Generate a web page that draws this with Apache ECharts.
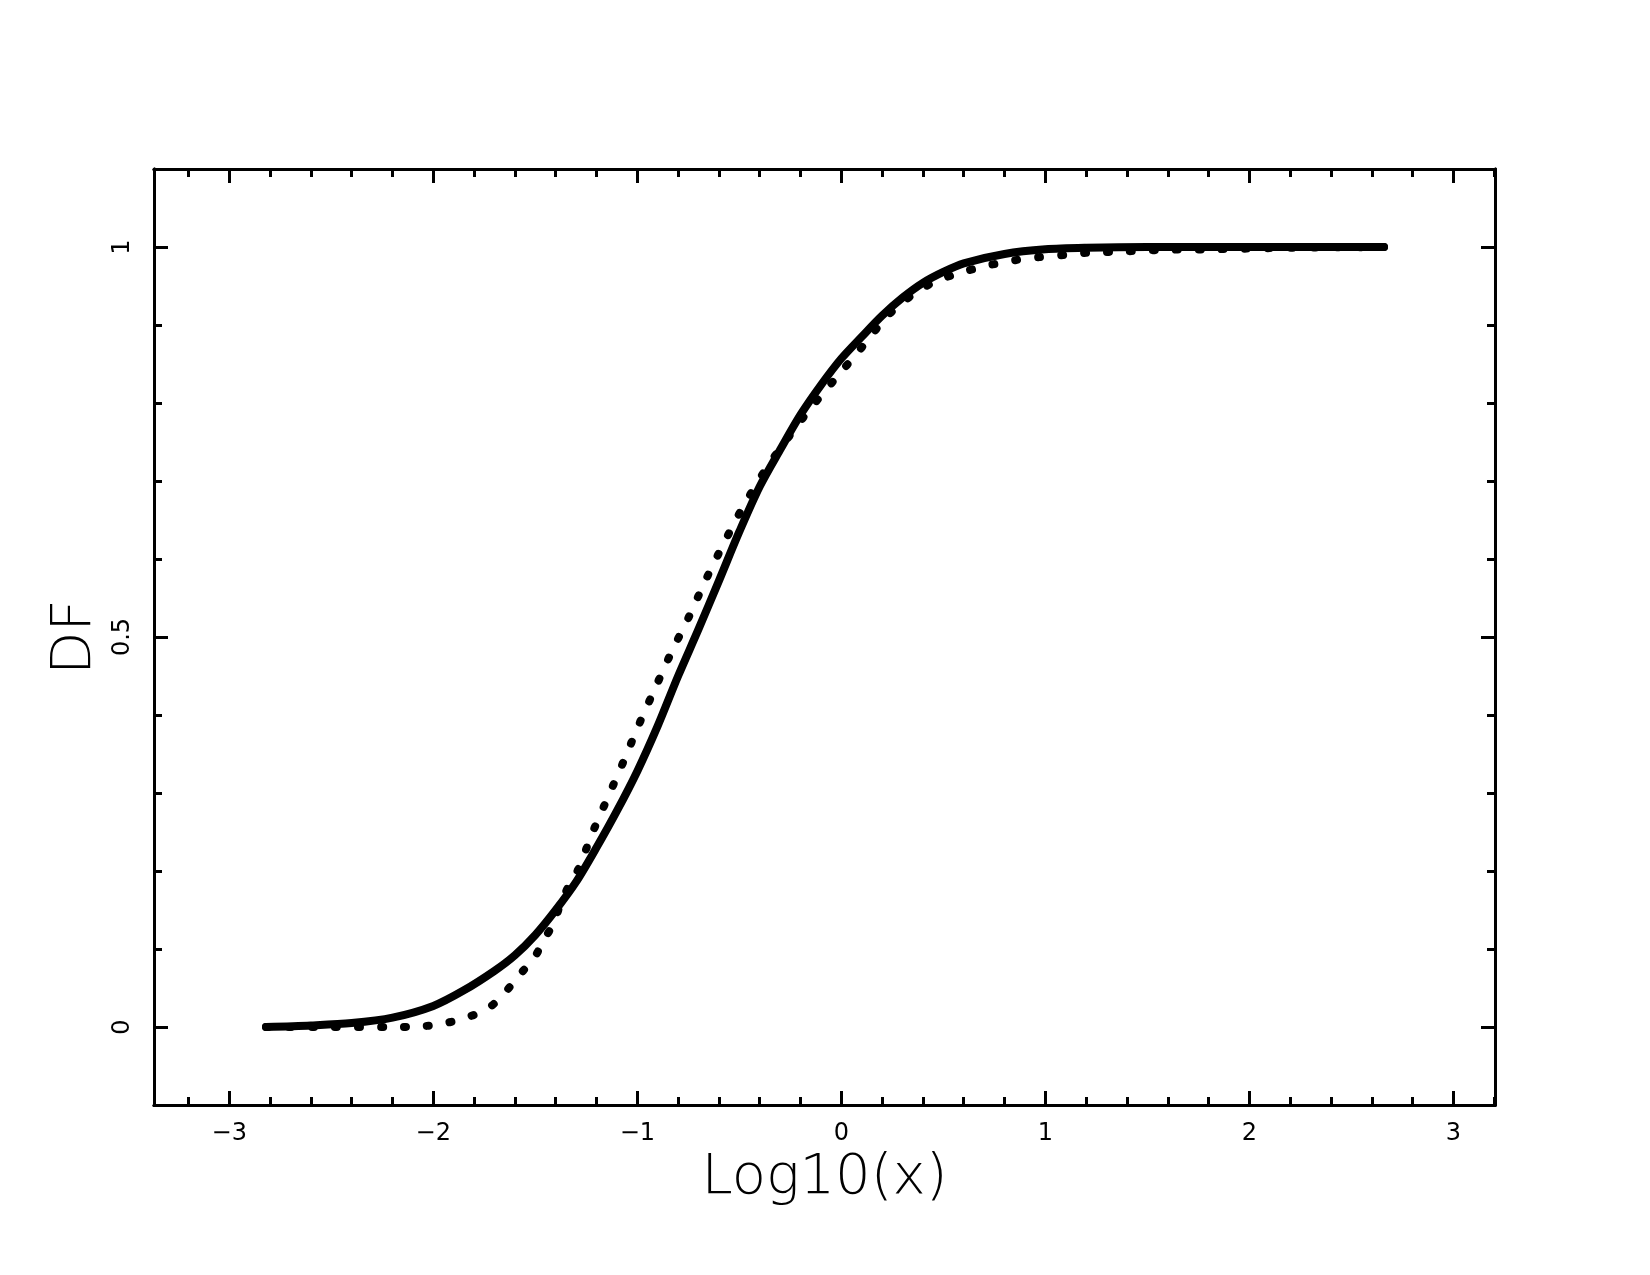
<!DOCTYPE html>
<html>
<head>
<meta charset="utf-8">
<script src="https://cdn.jsdelivr.net/npm/echarts@6/dist/echarts.min.js"></script>
<style>
  html, body { margin: 0; padding: 0; background: #fff; }
  #main { width: 1650px; height: 1275px; }
</style>
</head>
<body>
<div id="main"></div>
<script>
// solid curve: log10(x) and DF
let solidX = [-2.82, -2.6, -2.4, -2.2, -2.0, -1.85, -1.7, -1.6, -1.5, -1.4, -1.3, -1.2, -1.1, -1.0, -0.9, -0.8, -0.7, -0.6, -0.5, -0.4, -0.3, -0.2, -0.1, 0.0, 0.1, 0.2, 0.3, 0.4, 0.5, 0.6, 0.8, 1.0, 1.2, 1.5, 2.0, 2.66];
let solidY = [0.000, 0.002, 0.005, 0.012, 0.027, 0.047, 0.072, 0.092, 0.118, 0.150, 0.186, 0.230, 0.277, 0.328, 0.386, 0.450, 0.510, 0.572, 0.635, 0.693, 0.740, 0.785, 0.823, 0.857, 0.885, 0.912, 0.935, 0.954, 0.968, 0.979, 0.991, 0.997, 0.999, 1.0, 1.0, 1.0];

// dotted curve
let dotX = [-2.82, -2.5, -2.2, -2.05, -1.94, -1.84, -1.75, -1.68, -1.62, -1.56, -1.50, -1.46, -1.41, -1.38, -1.34, -1.29, -1.22, -1.14, -1.065, -0.99, -0.91, -0.83, -0.745, -0.665, -0.58, -0.49, -0.39, -0.34, -0.17, -0.04, 0.09, 0.22, 0.30, 0.39, 0.49, 0.61, 0.73, 0.85, 0.97, 1.1, 1.22, 1.35, 1.6, 1.8, 2.2, 2.66];
let dotY = [0.000, 0.000, 0.000, 0.001, 0.005, 0.012, 0.021, 0.035, 0.053, 0.072, 0.091, 0.111, 0.133, 0.155, 0.179, 0.202, 0.249, 0.297, 0.342, 0.389, 0.436, 0.482, 0.527, 0.573, 0.618, 0.663, 0.707, 0.727, 0.787, 0.828, 0.868, 0.910, 0.929, 0.946, 0.959, 0.969, 0.977, 0.983, 0.987, 0.990, 0.993, 0.994, 0.9965, 0.997, 0.999, 1.0];

// ticks
let xMajor = [-3, -2, -1, 0, 1, 2, 3];
let xMinor = [-3.2, -2.8, -2.6, -2.4, -2.2, -1.8, -1.6, -1.4, -1.2, -0.8, -0.6, -0.4, -0.2, 0.2, 0.4, 0.6, 0.8, 1.2, 1.4, 1.6, 1.8, 2.2, 2.4, 2.6, 2.8, 3.2];
let yMajor = [0, 0.5, 1];
let yMinor = [-0.1, 0.1, 0.2, 0.3, 0.4, 0.6, 0.7, 0.8, 0.9, 1.1];

let chartDom = document.getElementById('main');
let myChart = echarts.init(chartDom);
let font = '"DejaVu Sans", sans-serif';

function minus(v) {
  return v < 0 ? '\u2212' + (-v) : String(v);
}

function xAxisOf(pos, ticks, len, withLabel) {
  return {
    type: 'value',
    position: pos,
    min: -3.369,
    max: 3.204,
    splitLine: { show: false },
    axisLine: { show: true, onZero: false, lineStyle: { color: '#000', width: 3 } },
    axisTick: { show: true, inside: true, length: len, customValues: ticks, lineStyle: { color: '#000', width: 3 } },
    axisLabel: {
      show: withLabel,
      customValues: ticks,
      formatter: minus,
      margin: 17,
      fontSize: 24,
      fontFamily: font,
      color: '#000'
    }
  };
}

function yAxisOf(pos, ticks, len, withLabel) {
  return {
    type: 'value',
    position: pos,
    min: -0.1,
    max: 1.1,
    splitLine: { show: false },
    axisLine: { show: true, onZero: false, lineStyle: { color: '#000', width: 3 } },
    axisTick: { show: true, inside: true, length: len, customValues: ticks, lineStyle: { color: '#000', width: 3 } },
    axisLabel: {
      show: withLabel,
      customValues: ticks,
      rotate: 90,
      margin: 19,
      fontSize: 24,
      fontFamily: font,
      color: '#000'
    }
  };
}

let xBottom = xAxisOf('bottom', xMajor, 14, true);
xBottom.name = 'Log10(x)';
xBottom.nameLocation = 'middle';
xBottom.nameGap = 45;
xBottom.nameTextStyle = { fontSize: 56, fontFamily: font, fontWeight: 200, color: '#000' };

let yLeft = yAxisOf('left', yMajor, 14, true);
yLeft.name = 'DF';
yLeft.nameLocation = 'middle';
yLeft.nameGap = 50;
yLeft.nameTextStyle = { fontSize: 56, fontFamily: font, fontWeight: 200, color: '#000' };

let option = {
  backgroundColor: '#fff',
  animation: false,
  grid: { left: 154, right: 155, top: 169, bottom: 170, containLabel: false },
  xAxis: [
    xBottom,
    xAxisOf('bottom', xMinor, 8, false),
    xAxisOf('top', xMajor, 14, false),
    xAxisOf('top', xMinor, 8, false)
  ],
  yAxis: [
    yLeft,
    yAxisOf('left', yMinor, 8, false),
    yAxisOf('right', yMajor, 14, false),
    yAxisOf('right', yMinor, 8, false)
  ],
  series: [
    {
      name: 'dotted',
      type: 'line',
      data: dotX.map(function (x, i) { return [x, dotY[i]]; }),
      showSymbol: false,
      smooth: 0.3,
      lineStyle: { color: '#000', width: 8, type: [2, 21], cap: 'round', join: 'round' }
    },
    {
      name: 'solid',
      type: 'line',
      data: solidX.map(function (x, i) { return [x, solidY[i]]; }),
      showSymbol: false,
      smooth: 0.3,
      lineStyle: { color: '#000', width: 8, cap: 'round', join: 'round' }
    }
  ]
};

myChart.setOption(option);
window.addEventListener('resize', () => {
  myChart.resize();
});
</script>
</body>
</html>
